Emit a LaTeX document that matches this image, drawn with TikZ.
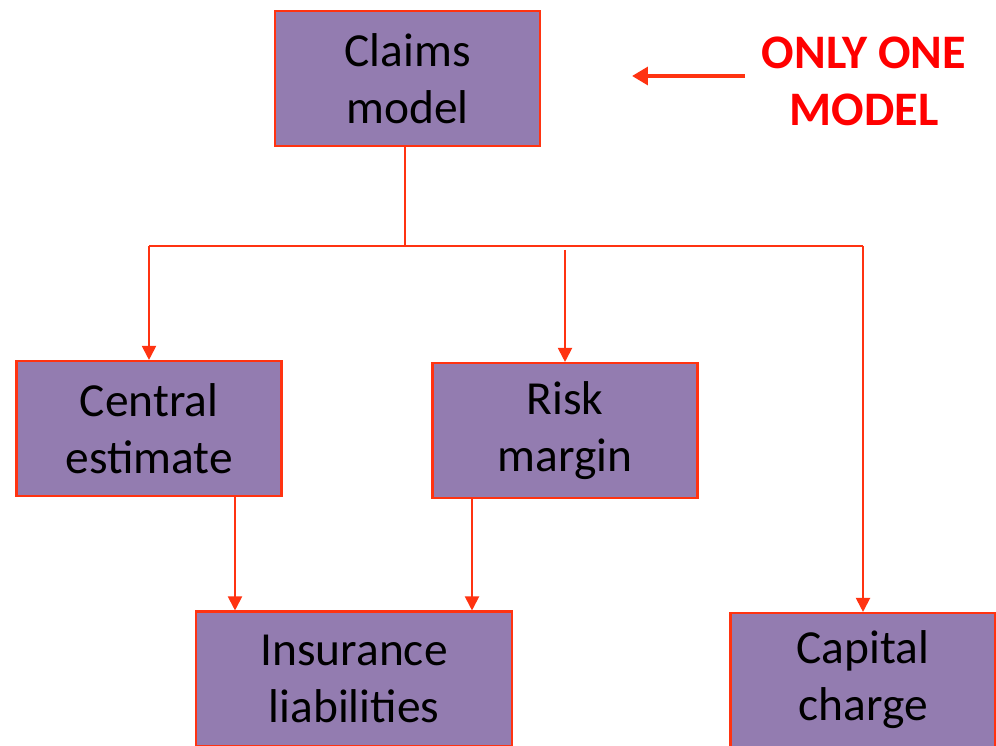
\documentclass[tikz,border=0pt]{standalone}
\usepackage{fontspec}
\setmainfont{Carlito}
\usetikzlibrary{arrows.meta}
\definecolor{boxfill}{RGB}{147,124,176}
\definecolor{boxline}{RGB}{255,51,17}
\definecolor{notered}{RGB}{255,0,0}
\tikzset{
  box/.style={draw=boxline, line width=1.2pt, fill=boxfill, align=center,
    inner sep=0pt, minimum width=5.3cm, minimum height=2.7cm,
    font=\fontsize{27}{32.5}\selectfont},
  link/.style={draw=boxline, line width=1.1pt},
  tip/.style={link, -{Triangle[width=8pt,length=8pt]}}
}
\begin{document}
\begin{tikzpicture}[x=0.02cm, y=-0.02cm]
%
\useasboundingbox (0,0) rectangle (996,746);
%
\node[box] (claims) at (407.5,78.5) {Claims\\model};
\node[box] (central) at (149,428.5) {Central\\estimate};
\node[box] (risk) at (565,430.5) {Risk\\margin};
\node[box, minimum width=6.32cm] (insur) at (354,679) {Insurance\\liabilities};
\node[box, minimum height=2.68cm] (capital) at (863,680) {Capital\\charge};
%
\node[text=notered, align=center, font=\fontsize{27.4}{32.5}\selectfont\bfseries]
  (note) at (864,81) {ONLY ONE\\MODEL};
\coordinate (notestart) at (745,76);
\coordinate (noteend) at (632,76);
\draw[boxline, line width=2.4pt, -{Triangle[width=10pt,length=9pt]}] (notestart) -- (noteend);
%
\coordinate (split) at (405,246);
\coordinate (left) at (149,246);
\coordinate (right) at (863,246);
\coordinate (riskstart) at (565,250);
\draw[link] (claims.south -| split) -- (split);
\draw[link] (left) -- (right);
\draw[tip] (left) -- (central.north);
\draw[tip] (riskstart) -- (risk.north);
\draw[tip] (right) -- (capital.north);
%
\draw[tip] (central.south -| 235,0) -- (insur.north -| 235,0);
\draw[tip] (risk.south -| 472,0) -- (insur.north -| 472,0);
%
\end{tikzpicture}
\end{document}
